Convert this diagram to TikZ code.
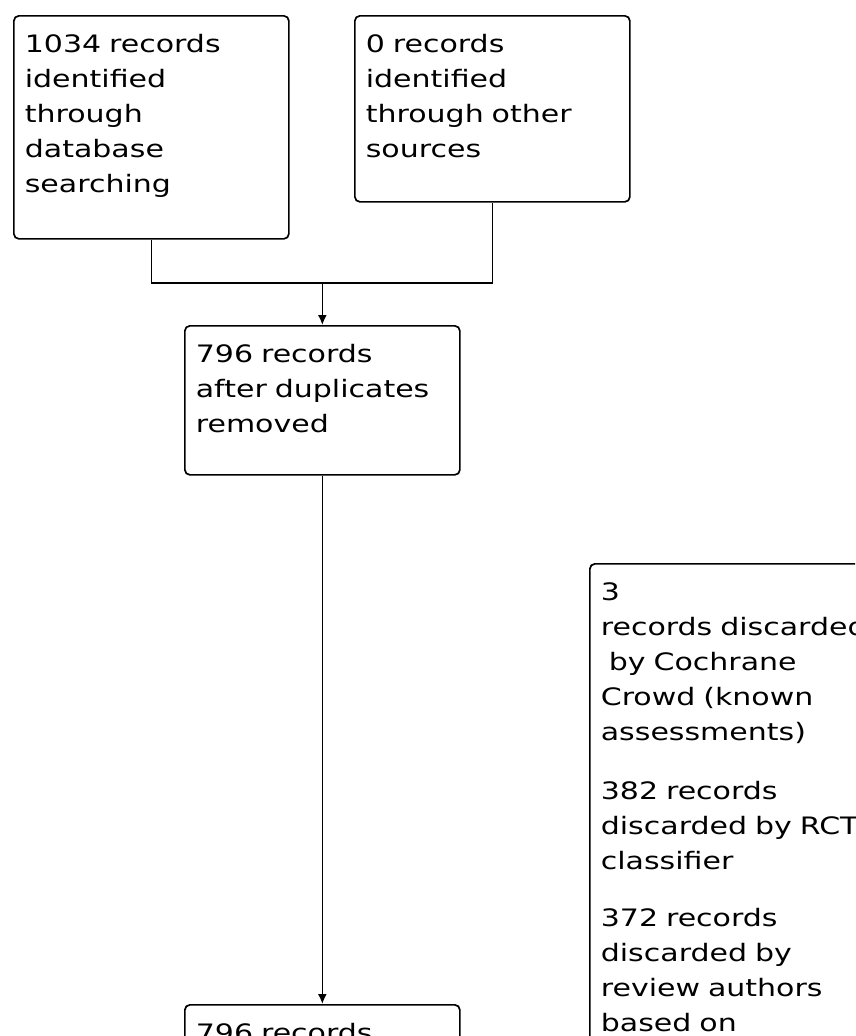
\documentclass[tikz,border=0pt]{standalone}
\usepackage{fontspec}
\usetikzlibrary{arrows.meta}
\newfontfamily\recfont{DejaVu Sans}[FakeStretch=1.25]

\tikzset{every picture/.style={line width=1.7pt}}
\tikzset{
  recbox/.style={draw, rounded corners=5pt, anchor=north west, inner xsep=11pt, inner ysep=12.5pt,
    text width=253pt, align=left, text height=24.5pt, font=\recfont\fontsize{24}{35}\selectfont},
  flow/.style={-{Latex[length=10pt,width=9pt]}}
}

\begin{document}
\begin{tikzpicture}[x=1pt,y=1pt,yscale=-1,xscale=1]
	\useasboundingbox (0,0) rectangle (855,1036);
	\clip (0,0) rectangle (855,1036);

	% identification
	\node [recbox, text depth=173.5pt] (srcdb) at (13,15) {1034 records\\identified\\through\\database\\searching};
	\node [recbox, text depth=136.5pt] (srcother) at (354,15) {0 records\\identified\\through other\\sources};
	% screening
	\node [recbox, text depth=99.5pt] (dedup) at (184,325) {796 records\\after duplicates\\removed};
	\node [recbox, text depth=150pt] (screened) at (184,1004) {796 records};
	\node [recbox, text width=290pt, text depth=520pt] (discarded) at (589,563) {3\\records discarded\\\ by Cochrane\\Crowd (known\\assessments)\\[24pt]382 records\\discarded by RCT\\classifier\\[22pt]372 records\\discarded by\\review authors\\based on};

	% connectors
	\path (dedup.north) ++(0,-42) coordinate (joinpt);
	\draw (srcdb.south) |- (joinpt) -| (srcother.south);
	\draw [flow] (joinpt) -- (dedup.north);
	\draw [flow] (dedup.south) -- (screened.north);

\end{tikzpicture}
\end{document}
